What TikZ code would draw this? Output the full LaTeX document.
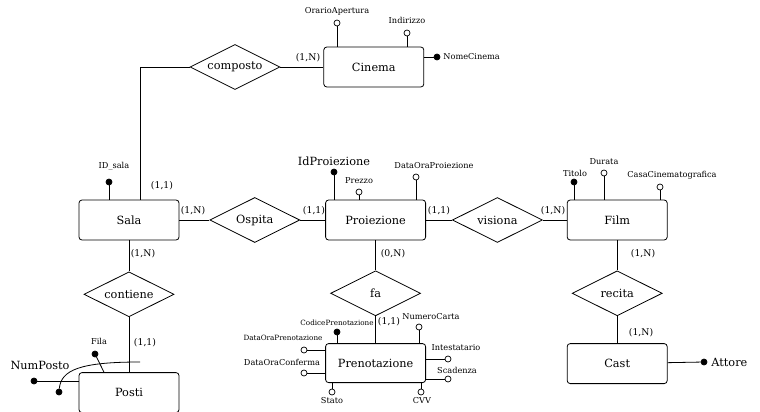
\documentclass[tikz,border=0pt]{standalone}
\usepackage{fontspec}
\setmainfont{DejaVu Serif}
\usepackage{tikz}
\usetikzlibrary{positioning,shapes.geometric}
\newcommand{\bigsz}{\fontsize{11.3}{13}\selectfont}
\newcommand{\cardsz}{\fontsize{9.3}{11}\selectfont}
\newcommand{\smallsz}{\fontsize{8.2}{10}\selectfont}
\newcommand{\tinysz}{\fontsize{7.2}{9}\selectfont}

\begin{document}
\begin{tikzpicture}[
  x=1pt, y=-1pt,
  line width=0.8pt,
  entity/.style={draw, rounded corners=3pt, minimum width=100pt, minimum height=40pt, inner sep=0pt, font=\bigsz},
  relation/.style={draw, diamond, aspect=2, minimum width=90pt, minimum height=45pt, inner sep=0pt, font=\bigsz},
  attr/.style={draw, circle, fill=white, inner sep=0pt, minimum size=6pt, line width=0.7pt},
  keyattr/.style={attr, fill=black},
  lbl/.style={font=\smallsz, inner sep=0pt},
  tiny/.style={font=\tinysz, inner sep=0pt},
  big/.style={font=\bigsz, inner sep=0pt},
  card/.style={font=\cardsz, inner sep=0pt}
]
\useasboundingbox (0,0) rectangle (760,412);

% entities and relations
\node[relation] (composto) at (235,67) {composto};
\node[entity, right=43pt of composto] (cinema) {Cinema};
\node[entity] (sala) at (129,220) {Sala};
\node[relation, right=30pt of sala] (ospita) {Ospita};
\node[entity, right=25pt of ospita] (proiezione) {Proiezione};
\node[relation, right=26pt of proiezione] (visiona) {visiona};
\node[entity, right=24pt of visiona] (film) {Film};
\node[relation, below=31pt of sala] (contiene) {contiene};
\node[entity, below=55pt of contiene] (posti) {Posti};
\node[relation, below=30pt of proiezione] (fa) {fa};
\node[entity, below=27pt of fa, minimum height=39pt] (prenotazione) {Prenotazione};
\node[relation, below=30pt of film] (recita) {recita};
\node[entity, below=27pt of recita] (cast) {Cast};

\draw (composto.west) -| ([xshift=11pt]sala.north);
\draw (composto) -- (cinema);
\draw (sala) -- (ospita);
\draw (ospita) -- (proiezione);
\draw (proiezione) -- (visiona);
\draw (visiona) -- (film);
\draw (sala) -- (contiene);
\draw (contiene) -- (posti);
\draw (proiezione) -- (fa);
\draw (fa) -- (prenotazione);
\draw (film) -- (recita);
\draw (recita) -- (cast);

% cardinalities
\node[card] (c-composto) at (308,58) {(1,N)};
\node[card] (c-salacomp) at (162,186) {(1,1)};
\node[card] (c-salaosp) at (193,211) {(1,N)};
\node[card] (c-proiosp) at (314,211) {(1,1)};
\node[card] (c-proivis) at (439,211) {(1,1)};
\node[card] (c-filmvis) at (553,211) {(1,N)};
\node[card] (c-salacont) at (143,254) {(1,N)};
\node[card] (c-proifa) at (393,254) {(0,N)};
\node[card] (c-filmrec) at (643,254) {(1,N)};
\node[card] (c-posticont) at (145,343) {(1,1)};
\node[card] (c-prenfa) at (389,322) {(1,1)};
\node[card] (c-castrec) at (641,333) {(1,N)};

% Cinema attributes
\node[attr] (orario) at (337,23) {};
\node[lbl] (orario-l) at (337,11) {OrarioApertura};
\draw (orario) -- (orario |- cinema.north);
\node[attr] (indirizzo) at (407,33) {};
\node[lbl] (indirizzo-l) at (407,20) {Indirizzo};
\draw (indirizzo) -- (indirizzo |- cinema.north);
\node[keyattr] (nomecinema) at (437,57) {};
\node[lbl, anchor=west] (nomecinema-l) at (443,57) {NomeCinema};
\draw (nomecinema) -- (nomecinema -| cinema.east);

% Sala attributes
\node[keyattr] (idsala) at (109,182) {};
\node[lbl] (idsala-l) at (114,166) {ID\_sala};
\draw (idsala) -- (idsala |- sala.north);

% Proiezione attributes
\node[keyattr] (idproi) at (334,172) {};
\node[big] (idproi-l) at (334,161) {IdProiezione};
\draw (idproi) -- (idproi |- proiezione.north);
\node[attr] (prezzo) at (359,192) {};
\node[lbl] (prezzo-l) at (359,181) {Prezzo};
\draw (prezzo) -- (prezzo |- proiezione.north);
\node[attr] (dataproi) at (416,177) {};
\node[lbl] (dataproi-l) at (434,166) {DataOraProiezione};
\draw (dataproi) -- (dataproi |- proiezione.north);

% Film attributes
\node[keyattr] (titolo) at (574,182) {};
\node[lbl] (titolo-l) at (575,173) {Titolo};
\draw (titolo) -- (titolo |- film.north);
\node[attr] (durata) at (604,173) {};
\node[lbl] (durata-l) at (604,162) {Durata};
\draw (durata) -- (durata |- film.north);
\node[attr] (casa) at (660,187) {};
\node[lbl] (casa-l) at (672,175) {CasaCinematografica};
\draw (casa) -- (casa |- film.north);

% Posti attributes
\node[keyattr] (numposto) at (34,381) {};
\node[big] (numposto-l) at (40,365) {NumPosto};
\draw (numposto) -- (numposto -| posti.west);
\node[keyattr] (fila) at (95,354) {};
\node[lbl] (fila-l) at (99,341) {Fila};
\draw (fila) -- ([xshift=-25pt]posti.north);
\coordinate (arcstart) at (140,362);
\node[keyattr] (postokey) at (59,392) {};
\draw (arcstart) .. controls (80,362) and (61,370) .. (postokey);

% Prenotazione attributes
\node[keyattr] (codice) at (337,332) {};
\node[tiny] (codice-l) at (337,323) {CodicePrenotazione};
\draw (codice) -- (codice |- prenotazione.north);
\node[attr] (carta) at (419,327) {};
\node[lbl] (carta-l) at (431,317) {NumeroCarta};
\draw (carta) -- (carta |- prenotazione.north);
\node[attr] (datapren) at (304,350) {};
\node[tiny] (datapren-l) at (283,338) {DataOraPrenotazione};
\draw (datapren) -- (datapren -| prenotazione.west);
\node[attr] (dataconf) at (304,373) {};
\node[lbl] (dataconf-l) at (282,362) {DataOraConferma};
\draw (dataconf) -- (dataconf -| prenotazione.west);
\node[attr] (intest) at (448,359) {};
\node[lbl] (intest-l) at (456,348) {Intestatario};
\draw (intest) -- (intest -| prenotazione.east);
\node[attr] (scadenza) at (448,379) {};
\node[lbl] (scadenza-l) at (457,370) {Scadenza};
\draw (scadenza) -- (scadenza -| prenotazione.east);
\node[attr] (stato) at (332,392) {};
\node[lbl] (stato-l) at (332,401) {Stato};
\draw (stato) -- (stato |- prenotazione.south);
\node[attr] (cvv) at (421,392) {};
\node[lbl] (cvv-l) at (422,401) {CVV};
\draw (cvv) -- (cvv |- prenotazione.south);

% Cast attributes
\node[keyattr] (attore) at (704,362) {};
\node[big, anchor=west] (attore-l) at (711,362) {Attore};
\draw (attore) -- (cast);
\end{tikzpicture}
\end{document}
